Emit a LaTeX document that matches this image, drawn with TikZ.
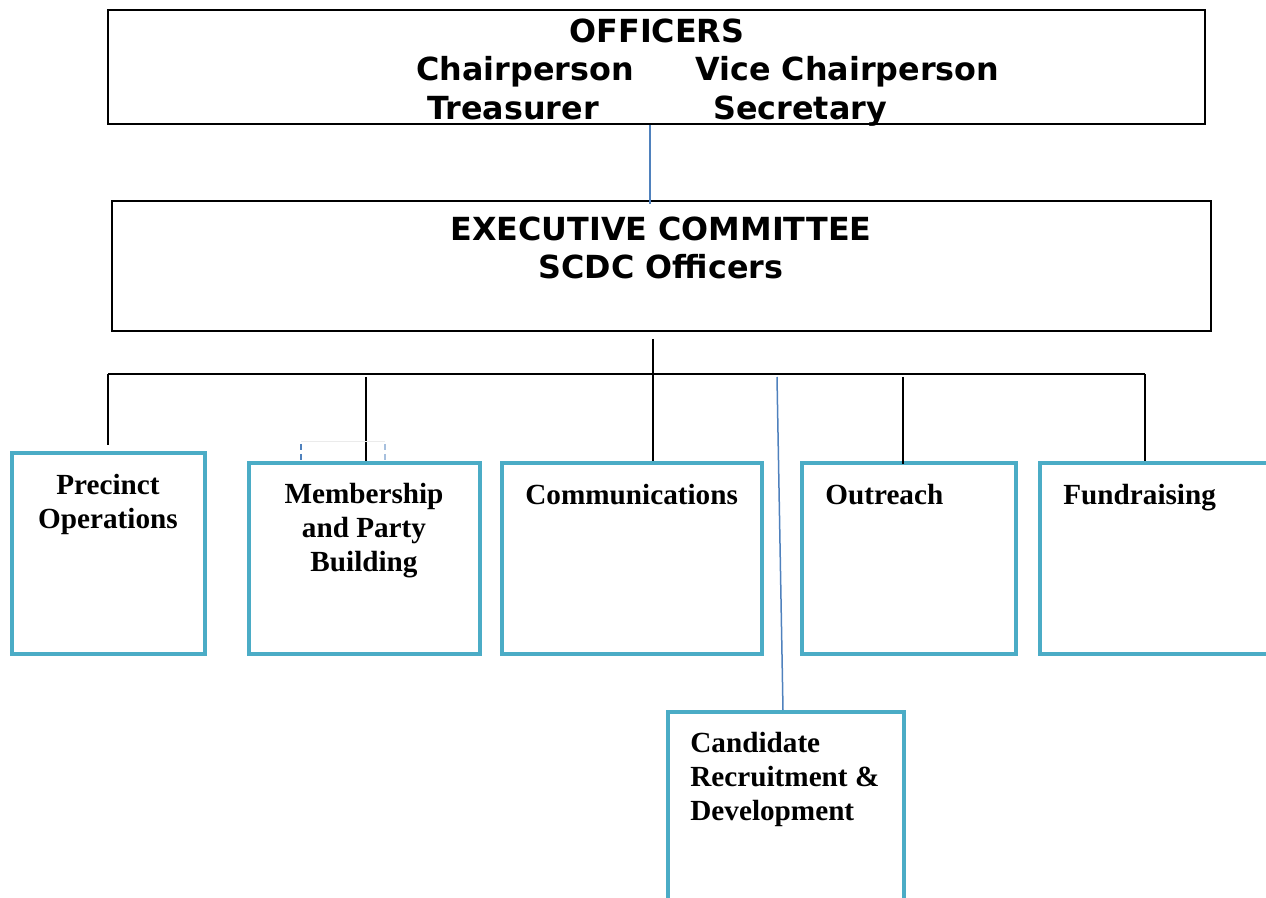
\documentclass[tikz,border=0pt]{standalone}
\usepackage{fontspec}
\setmainfont{Liberation Serif}
\newfontfamily\verd{DejaVu Sans}
\usepackage{tikz}
\usetikzlibrary{fit}
\definecolor{boxteal}{HTML}{4BACC6}
\definecolor{linkblue}{HTML}{4F81BD}
\tikzset{
  plainbox/.style={draw=black, line width=1pt, inner sep=0pt},
  tealbox/.style={draw=boxteal, line width=2pt, inner sep=0pt},
  busline/.style={draw=black, line width=0.9pt},
  blueline/.style={draw=linkblue, line width=0.75pt},
  toptext/.style={font=\verd\bfseries\fontsize{15.9}{19}\selectfont, inner sep=0pt},
  boxtext/.style={font=\bfseries\fontsize{14.6}{17}\selectfont, inner sep=0pt, align=center}
}

\begin{document}
\begin{tikzpicture}[x=0.5pt,y=-0.5pt]
  \useasboundingbox (0,0) rectangle (1266,898);
  % officers
  \node[plainbox, fit={(108,10) (1205,124)}] (officers) {};
  \node[toptext, anchor=base] (offtitle) at (657,43) {OFFICERS};
  \node[toptext, anchor=base west] (chair) at (416,81) {Chairperson};
  \node[toptext, anchor=base west] (vice) at (695,81) {Vice Chairperson};
  \node[toptext, anchor=base west] (treas) at (427,120) {Treasurer};
  \node[toptext, anchor=base west] (secr) at (713,120) {Secretary};
  % executive committee
  \node[plainbox, fit={(112,201) (1211,331)}] (exec) {};
  \node[toptext, anchor=base] (exectitle) at (661,241) {EXECUTIVE COMMITTEE};
  \node[toptext, anchor=base] (execsub) at (661,279) {SCDC Officers};
  % committees
  \node[tealbox, fit={(12,453) (205,654)}] (precinct) {};
  \node[tealbox, fit={(249,463) (480,654)}] (member) {};
  \node[tealbox, fit={(502,463) (762,654)}] (comm) {};
  \node[tealbox, fit={(802,463) (1016,654)}] (outreach) {};
  \node[tealbox, fit={(1040,463) (1280,654)}] (fund) {};
  \node[tealbox, fit={(668,712) (904,912)}] (cand) {};
  \node[boxtext, anchor=north] (precinctlbl) at (108,474) {Precinct\\Operations};
  \node[boxtext, anchor=north] (memberlbl) at (364,483) {Membership\\and Party\\Building};
  \node[boxtext, anchor=north west] (commlbl) at (525,484) {Communications};
  \node[boxtext, anchor=north west] (outreachlbl) at (825,484) {Outreach};
  \node[boxtext, anchor=north west] (fundlbl) at (1063,484) {Fundraising};
  \node[boxtext, anchor=north west, align=left] (candlbl) at (690,732)
    {Candidate\\Recruitment \&\\Development};
  % links
  \coordinate (up) at (650,0);
  \coordinate (c1) at (108,374);
  \coordinate (c2) at (366,377);
  \coordinate (hub) at (653,374);
  \coordinate (c4) at (903,377);
  \coordinate (c5) at (1145,374);
  \coordinate (cfree) at (777,377);
  \coordinate (ctop) at (783,0);
  \draw[blueline] (officers.south -| up) -- ([yshift=-2pt]exec.north -| up);
  \draw[busline] (c1) -- (c5);
  \draw[busline] ([yshift=-3.5pt]exec.south -| hub) -- (comm.north -| hub);
  \draw[busline] (c1) -- ([yshift=3pt]precinct.north -| c1);
  \draw[busline] (c2) -- (member.north -| c2);
  \draw[busline] (c4) -- ([yshift=-1.5pt]outreach.north -| c4);
  \draw[busline] (c5) -- (fund.north -| c5);
  \draw[blueline] (cfree) -- (cand.north -| ctop);
  % stray marks above membership
  \draw[black!8, line width=0.4pt] (301,441) -- (385,441);
  \draw[linkblue, line width=0.8pt, dashed, dash pattern=on 3pt off 2pt] (301,444) -- (301,461);
  \draw[linkblue!50, line width=0.8pt, dashed, dash pattern=on 3pt off 2pt] (385,444) -- (385,461);
\end{tikzpicture}
\end{document}
